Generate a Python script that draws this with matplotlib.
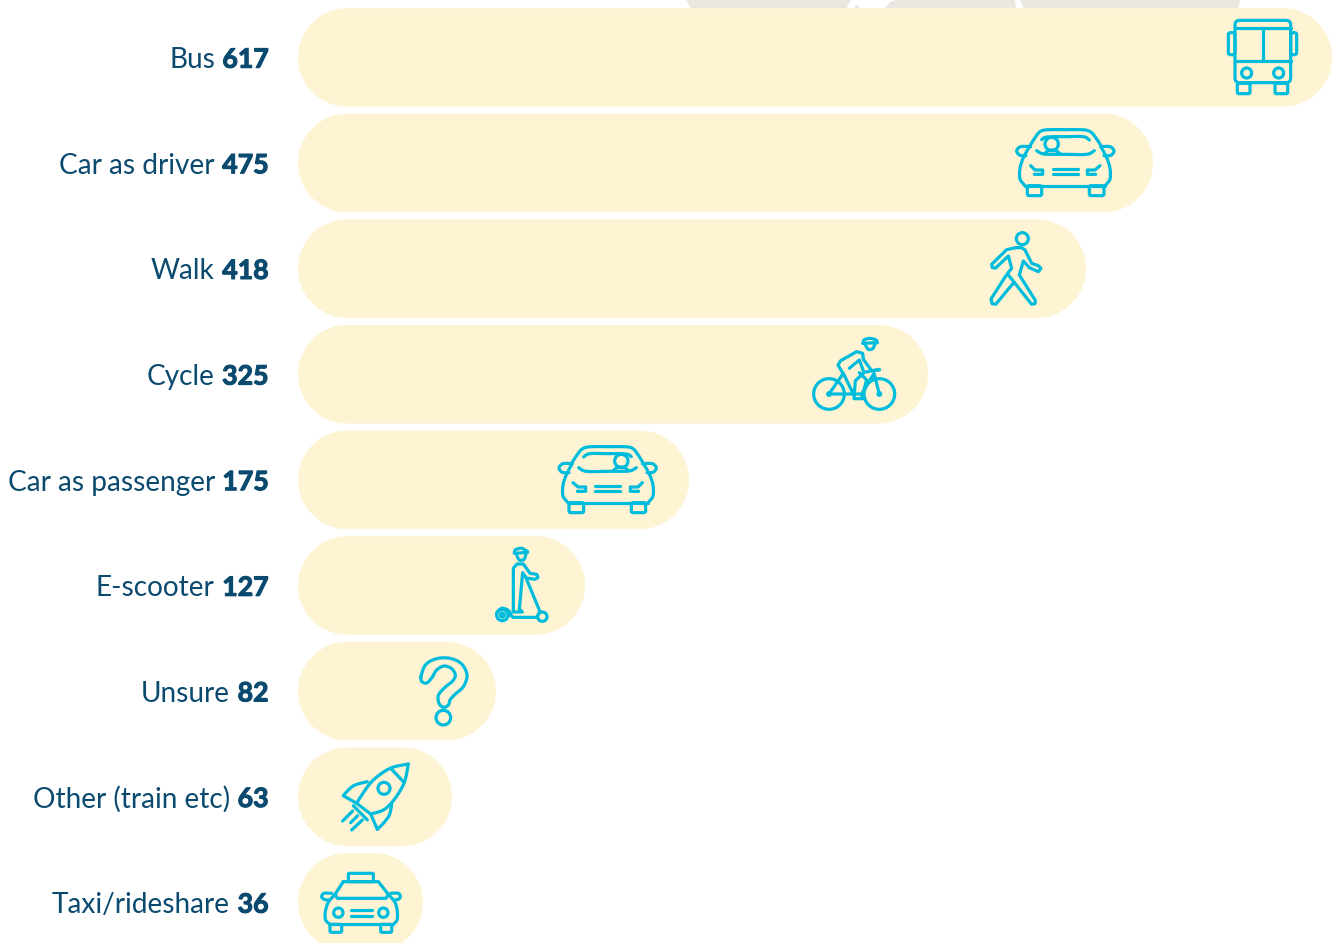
import matplotlib
matplotlib.use("Agg")
import matplotlib.pyplot as plt
import matplotlib.patheffects as pe
from matplotlib.patches import PathPatch, Polygon
from matplotlib.path import Path
from matplotlib.transforms import Affine2D

# ---- data ----
categories = ["Bus", "Car as driver", "Walk", "Cycle", "Car as passenger",
              "E-scooter", "Unsure", "Other (train etc)", "Taxi/rideshare"]
values = [617, 475, 418, 325, 175, 127, 82, 63, 36]
# the drawn pill lengths are not proportional to the printed values
bar_lengths = [1034, 855, 788, 630, 391, 287, 198, 154, 125]

W, H = 1339, 943
BAR_X0 = 298
ROW0, ROW_STEP, BAR_H = 57.4, 105.62, 98.6
TEXT_RIGHT = 268.5
BAR_C, INK, ICON, GREY = "#FEF3D3", "#0B4A6F", "#00BCDC", "#E9E7DF"
LW = 2.3

fig = plt.figure(figsize=(W / 100, H / 100), dpi=100, facecolor="white")
ax = fig.add_axes([0, 0, 1, 1])
ax.set_xlim(0, W)
ax.set_ylim(H, 0)
ax.axis("off")

# grey map fragments peeking above the first bar
for poly in ([(686, 0), (691, 9), (846, 9), (851, 0)],
             [(853, 9), (857, 4), (860, 9)],
             [(884, 9), (890, 2), (896, 0), (1015, 0), (1016, 9)],
             [(1018, 4), (1023, 9)],
             [(1024, 9), (1020, 0), (1240, 0), (1238, 9)]):
    ax.add_patch(Polygon(poly, closed=True, fc=GREY, ec="none", zorder=1))


def pill(x0, y, length, h):
    r = h / 2
    k = 0.5523 * r
    x1 = x0 + length
    t, b = y - r, y + r
    v = [(x0 + r, t), (x1 - r, t),
         (x1 - r + k, t), (x1, y - k), (x1, y),
         (x1, y + k), (x1 - r + k, b), (x1 - r, b),
         (x0 + r, b),
         (x0 + r - k, b), (x0, y + k), (x0, y),
         (x0, y - k), (x0 + r - k, t), (x0 + r, t), (x0 + r, t)]
    c = [Path.MOVETO, Path.LINETO] + [Path.CURVE4] * 6 + [Path.LINETO] + [Path.CURVE4] * 6 + [Path.CLOSEPOLY]
    return Path(v, c)


rows = [ROW0 + i * ROW_STEP for i in range(len(categories))]
for y, length in zip(rows, bar_lengths):
    ax.add_patch(PathPatch(pill(BAR_X0, y, length, BAR_H), fc=BAR_C, ec="none", zorder=2))

# labels: bold value right-aligned, name to its left
fig.canvas.draw()
rend = fig.canvas.get_renderer()
for y, name, v in zip(rows, categories, values):
    t = ax.text(TEXT_RIGHT, y + 0.3, str(v), ha="right", va="center_baseline", fontsize=19.2,
                family="Lato", weight="bold", color=INK,
                path_effects=[pe.withStroke(linewidth=0.8, foreground=INK)])
    bb = t.get_window_extent(rend)
    ax.text(bb.x0 - 7.5, y + 0.3, name, ha="right", va="center_baseline", fontsize=20.2,
            family="Lato", weight="normal", color=INK)


# ---- icon helpers: coordinates are in 3x crop units relative to an origin ----
class Icon:
    def __init__(self, ox, oy, sx=1 / 3, sy=1 / 3):
        self.tr = Affine2D().scale(sx, sy).translate(ox, oy) + ax.transData

    def _add(self, path, fill=False):
        ax.add_patch(PathPatch(path, fc=ICON if fill else "none", ec=ICON, lw=LW,
                               capstyle="round", joinstyle="round", transform=self.tr, zorder=3))

    def line(self, *pts, closed=False):
        p = list(pts)
        codes = [Path.MOVETO] + [Path.LINETO] * (len(p) - 1)
        if closed:
            p.append(p[0])
            codes.append(Path.CLOSEPOLY)
        self._add(Path(p, codes))

    def smooth(self, *pts, closed=False, k=1 / 6):
        p = list(pts)
        n = len(p)
        verts, codes = [p[0]], [Path.MOVETO]
        segs = n if closed else n - 1
        for i in range(segs):
            if closed:
                a, b, c, d = p[(i - 1) % n], p[i], p[(i + 1) % n], p[(i + 2) % n]
            else:
                a, b, c, d = p[max(i - 1, 0)], p[i], p[i + 1], p[min(i + 2, n - 1)]
            verts += [(b[0] + (c[0] - a[0]) * k, b[1] + (c[1] - a[1]) * k),
                      (c[0] - (d[0] - b[0]) * k, c[1] - (d[1] - b[1]) * k), c]
            codes += [Path.CURVE4] * 3
        self._add(Path(verts, codes))

    def rrect(self, x0, y0, x1, y1, r):
        v = [(x0 + r, y0), (x1 - r, y0), (x1, y0), (x1, y0 + r), (x1, y1 - r), (x1, y1), (x1 - r, y1),
             (x0 + r, y1), (x0, y1), (x0, y1 - r), (x0, y0 + r), (x0, y0), (x0 + r, y0), (x0 + r, y0)]
        c = [Path.MOVETO, Path.LINETO, Path.CURVE3, Path.CURVE3, Path.LINETO, Path.CURVE3, Path.CURVE3,
             Path.LINETO, Path.CURVE3, Path.CURVE3, Path.LINETO, Path.CURVE3, Path.CURVE3, Path.CLOSEPOLY]
        self._add(Path(v, c))

    def circle(self, cx, cy, r, fill=False):
        self._add(Path.circle((cx, cy), r), fill)


def bus(i):
    i.rrect(45, 25, 212, 212, 14)
    i.line((45, 48), (212, 48))
    i.line((128, 48), (128, 148))
    i.line((45, 148), (212, 148))
    i.rrect(25, 62, 45, 128, 6)
    i.rrect(212, 62, 230, 128, 6)
    i.circle(80, 183, 15)
    i.circle(176, 183, 15)
    i.rrect(52, 214, 90, 245, 4)
    i.rrect(165, 214, 203, 245, 4)


def car(i):
    i.smooth((90, 92), (112, 58), (126, 47), (148, 44), (195, 44), (242, 44), (264, 47), (280, 58), (303, 92))
    i.smooth((303, 96), (320, 128), (330, 160), (330, 192), (315, 212))
    i.line((315, 212), (75, 212))
    i.smooth((75, 212), (60, 192), (60, 160), (70, 128), (88, 96))
    i.smooth((92, 95), (62, 95), (50, 108), (60, 121), (78, 122))
    i.smooth((302, 95), (330, 95), (342, 108), (332, 121), (312, 122))
    i.smooth((125, 74), (140, 66), (195, 65), (250, 65), (268, 75))
    i.smooth((110, 107), (132, 117), (195, 118), (260, 118), (283, 107))
    i.circle(155, 87, 20)
    i.smooth((133, 116), (148, 106), (165, 106), (180, 116))
    i.line((92, 152), (105, 165), (128, 165), (128, 178), (103, 178))
    i.line((300, 152), (285, 165), (262, 165), (262, 178), (287, 178))
    i.line((158, 163), (235, 163))
    i.line((158, 178), (235, 178))
    i.rrect(82, 212, 125, 242, 5)
    i.rrect(268, 212, 312, 242, 5)


def walk(i):
    i.circle(127, 41, 18)
    i.line((108, 68), (80, 74), (35, 118), (37, 128), (47, 129), (85, 93), (95, 130), (82, 146),
           (155, 238), (165, 236), (166, 226),
           (118, 150), (130, 108), (148, 128), (175, 140), (183, 130), (175, 122), (155, 115), (135, 75),
           (125, 68), (108, 68))
    i.line((78, 152), (33, 222), (36, 236), (47, 238), (102, 172))


def cycle(i):
    i.circle(87, 192, 46)
    i.circle(238, 192, 46)
    i.circle(87, 192, 4, fill=True)
    i.circle(238, 192, 4, fill=True)
    i.smooth((190, 40), (192, 30), (210, 25), (228, 30), (232, 38))
    i.line((188, 40), (232, 38))
    i.smooth((196, 45), (205, 58), (218, 56), (225, 42))
    i.line((130, 132), (114, 105), (122, 92), (170, 65), (188, 70), (190, 88), (215, 122), (238, 120))
    i.line((148, 115), (178, 90), (192, 128), (166, 152), (162, 206), (190, 206))
    i.line((178, 128), (200, 150), (186, 200))
    i.line((87, 192), (130, 130), (160, 192), (87, 192))
    i.line((160, 192), (185, 192), (222, 130), (238, 192))
    i.line((198, 126), (238, 118))


def scooter(i):
    i.smooth((88, 38), (92, 29), (110, 25), (128, 35))
    i.line((88, 40), (128, 37))
    i.smooth((95, 45), (103, 60), (117, 58), (123, 42))
    i.line((85, 208), (85, 85), (96, 72), (115, 72), (135, 100), (155, 103), (159, 112), (150, 118),
           (124, 114), (113, 98), (103, 208), (112, 216), (85, 216), (85, 208))
    i.line((124, 116), (165, 215))
    i.line((165, 215), (155, 232), (85, 232), (70, 222))
    i.circle(172, 230, 14)
    i.circle(52, 225, 17)
    i.circle(52, 225, 6)
    i.smooth((35, 218), (50, 205), (68, 210), (78, 222))


def question(i):
    i.smooth((273, 80), (287, 44), (320, 26), (360, 25), (395, 42), (411, 76), (400, 110), (375, 133),
             (360, 150), (356, 164), (342, 172), (328, 162), (325, 136), (345, 112), (368, 93),
             (376, 75), (365, 56), (342, 48), (320, 60), (305, 84), (290, 99), (276, 95), closed=True)
    i.circle(340, 203, 22)


def rocket(i):
    i.smooth((235, 342), (180, 355), (130, 390), (100, 428), (80, 460))
    i.smooth((235, 342), (222, 400), (190, 452), (160, 480), (122, 492))
    i.line((80, 460), (122, 492))
    i.line((185, 358), (220, 395))
    i.circle(162, 415, 18)
    i.smooth((112, 395), (75, 405), (55, 420), (40, 437))
    i.line((40, 437), (80, 460))
    i.smooth((185, 465), (178, 495), (160, 520), (142, 538))
    i.line((142, 538), (122, 492))
    i.line((70, 467), (112, 510))
    i.line((68, 483), (38, 513))
    i.line((83, 497), (62, 518))
    i.line((97, 510), (65, 540))


def taxi(i):
    i.rrect(115, 25, 190, 50, 3)
    i.line((100, 50), (205, 50), (235, 88), (228, 100), (82, 100), (75, 88), (100, 50))
    i.smooth((75, 88), (55, 112), (46, 140), (47, 165), (60, 178))
    i.smooth((235, 88), (255, 112), (262, 140), (261, 165), (250, 178))
    i.line((60, 178), (250, 178))
    i.smooth((65, 85), (42, 85), (35, 95), (42, 103), (55, 105))
    i.smooth((242, 85), (265, 85), (271, 95), (265, 103), (252, 105))
    i.circle(85, 143, 14)
    i.circle(220, 143, 14)
    i.line((122, 135), (187, 135))
    i.line((122, 152), (187, 152))
    i.rrect(60, 178, 95, 202, 4)
    i.rrect(212, 178, 245, 202, 4)


bus(Icon(1220, 12))
car(Icon(1000, 115))
walk(Icon(980, 225))
cycle(Icon(800, 330))
car(Icon(673, 432, sx=-1 / 3))
scooter(Icon(485, 540))
question(Icon(330, 650))
rocket(Icon(330, 650))
taxi(Icon(310, 865))

fig.savefig("out.png", dpi=100, facecolor="white")
